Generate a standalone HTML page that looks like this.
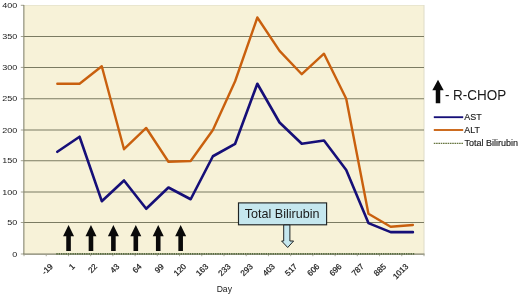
<!DOCTYPE html>
<html><head><meta charset="utf-8"><title>Chart</title>
<style>
html,body{margin:0;padding:0;background:#fff;}
body{width:520px;height:296px;overflow:hidden;font-family:"Liberation Sans",sans-serif;}
svg{display:block;will-change:transform;}
text{font-family:"Liberation Sans",sans-serif;fill:#1a1a1a;}
</style></head><body>
<svg width="520" height="296" viewBox="0 0 520 296">
<rect x="0" y="0" width="520" height="296" fill="#ffffff"/>
<rect x="24.0" y="5" width="400.0" height="249" fill="#f7f2d8"/>
<path d="M24 5.5H424" stroke="#e9e6cf" stroke-width="1" fill="none"/>
<path d="M424 5V254" stroke="#dedcc8" stroke-width="1" fill="none"/>
<path d="M24 222.50H424" stroke="#7b7b62" stroke-width="1.05" fill="none"/>
<path d="M24 192.00H424" stroke="#7b7b62" stroke-width="1.05" fill="none"/>
<path d="M24 160.70H424" stroke="#7b7b62" stroke-width="1.05" fill="none"/>
<path d="M24 130.00H424" stroke="#7b7b62" stroke-width="1.05" fill="none"/>
<path d="M24 98.80H424" stroke="#7b7b62" stroke-width="1.05" fill="none"/>
<path d="M24 67.40H424" stroke="#7b7b62" stroke-width="1.05" fill="none"/>
<path d="M24 36.50H424" stroke="#7b7b62" stroke-width="1.05" fill="none"/>
<path d="M20.8 254.00H24" stroke="#a3a392" stroke-width="1" fill="none"/>
<text x="12.30" y="257.00" font-size="7.8" textLength="5.00" lengthAdjust="spacingAndGlyphs">0</text>
<path d="M20.8 222.50H24" stroke="#a3a392" stroke-width="1" fill="none"/>
<text x="7.30" y="225.00" font-size="7.8" textLength="10.00" lengthAdjust="spacingAndGlyphs">50</text>
<path d="M20.8 192.00H24" stroke="#a3a392" stroke-width="1" fill="none"/>
<text x="2.30" y="194.50" font-size="7.8" textLength="15.00" lengthAdjust="spacingAndGlyphs">100</text>
<path d="M20.8 160.70H24" stroke="#a3a392" stroke-width="1" fill="none"/>
<text x="2.30" y="163.20" font-size="7.8" textLength="15.00" lengthAdjust="spacingAndGlyphs">150</text>
<path d="M20.8 130.00H24" stroke="#a3a392" stroke-width="1" fill="none"/>
<text x="2.30" y="132.50" font-size="7.8" textLength="15.00" lengthAdjust="spacingAndGlyphs">200</text>
<path d="M20.8 98.80H24" stroke="#a3a392" stroke-width="1" fill="none"/>
<text x="2.30" y="101.30" font-size="7.8" textLength="15.00" lengthAdjust="spacingAndGlyphs">250</text>
<path d="M20.8 67.40H24" stroke="#a3a392" stroke-width="1" fill="none"/>
<text x="2.30" y="69.90" font-size="7.8" textLength="15.00" lengthAdjust="spacingAndGlyphs">300</text>
<path d="M20.8 36.50H24" stroke="#a3a392" stroke-width="1" fill="none"/>
<text x="2.30" y="39.00" font-size="7.8" textLength="15.00" lengthAdjust="spacingAndGlyphs">350</text>
<path d="M20.8 5.30H24" stroke="#a3a392" stroke-width="1" fill="none"/>
<text x="2.30" y="7.80" font-size="7.8" textLength="15.00" lengthAdjust="spacingAndGlyphs">400</text>
<path d="M23.85 5V254" stroke="#86866f" stroke-width="1.1" fill="none"/>
<path d="M23.3 254.05H424.5" stroke="#7f7f68" stroke-width="1.15" fill="none"/>
<path d="M24.00 254V256.2" stroke="#a0a190" stroke-width="0.9" fill="none"/>
<path d="M46.22 254V256.2" stroke="#a0a190" stroke-width="0.9" fill="none"/>
<path d="M68.44 254V256.2" stroke="#a0a190" stroke-width="0.9" fill="none"/>
<path d="M90.67 254V256.2" stroke="#a0a190" stroke-width="0.9" fill="none"/>
<path d="M112.89 254V256.2" stroke="#a0a190" stroke-width="0.9" fill="none"/>
<path d="M135.11 254V256.2" stroke="#a0a190" stroke-width="0.9" fill="none"/>
<path d="M157.33 254V256.2" stroke="#a0a190" stroke-width="0.9" fill="none"/>
<path d="M179.56 254V256.2" stroke="#a0a190" stroke-width="0.9" fill="none"/>
<path d="M201.78 254V256.2" stroke="#a0a190" stroke-width="0.9" fill="none"/>
<path d="M224.00 254V256.2" stroke="#a0a190" stroke-width="0.9" fill="none"/>
<path d="M246.22 254V256.2" stroke="#a0a190" stroke-width="0.9" fill="none"/>
<path d="M268.44 254V256.2" stroke="#a0a190" stroke-width="0.9" fill="none"/>
<path d="M290.67 254V256.2" stroke="#a0a190" stroke-width="0.9" fill="none"/>
<path d="M312.89 254V256.2" stroke="#a0a190" stroke-width="0.9" fill="none"/>
<path d="M335.11 254V256.2" stroke="#a0a190" stroke-width="0.9" fill="none"/>
<path d="M357.33 254V256.2" stroke="#a0a190" stroke-width="0.9" fill="none"/>
<path d="M379.56 254V256.2" stroke="#a0a190" stroke-width="0.9" fill="none"/>
<path d="M401.78 254V256.2" stroke="#a0a190" stroke-width="0.9" fill="none"/>
<path d="M424.00 254V256.2" stroke="#a0a190" stroke-width="0.9" fill="none"/>
<text transform="translate(53.33,267) rotate(-45)" font-size="8.1" text-anchor="end" stroke="#1a1a1a" stroke-width="0.22">-19</text>
<text transform="translate(75.56,267) rotate(-45)" font-size="8.1" text-anchor="end" stroke="#1a1a1a" stroke-width="0.22">1</text>
<text transform="translate(97.78,267) rotate(-45)" font-size="8.1" text-anchor="end" stroke="#1a1a1a" stroke-width="0.22">22</text>
<text transform="translate(120.00,267) rotate(-45)" font-size="8.1" text-anchor="end" stroke="#1a1a1a" stroke-width="0.22">43</text>
<text transform="translate(142.22,267) rotate(-45)" font-size="8.1" text-anchor="end" stroke="#1a1a1a" stroke-width="0.22">64</text>
<text transform="translate(164.44,267) rotate(-45)" font-size="8.1" text-anchor="end" stroke="#1a1a1a" stroke-width="0.22">99</text>
<text transform="translate(186.67,267) rotate(-45)" font-size="8.1" text-anchor="end" stroke="#1a1a1a" stroke-width="0.22">120</text>
<text transform="translate(208.89,267) rotate(-45)" font-size="8.1" text-anchor="end" stroke="#1a1a1a" stroke-width="0.22">163</text>
<text transform="translate(231.11,267) rotate(-45)" font-size="8.1" text-anchor="end" stroke="#1a1a1a" stroke-width="0.22">233</text>
<text transform="translate(253.33,267) rotate(-45)" font-size="8.1" text-anchor="end" stroke="#1a1a1a" stroke-width="0.22">293</text>
<text transform="translate(275.56,267) rotate(-45)" font-size="8.1" text-anchor="end" stroke="#1a1a1a" stroke-width="0.22">403</text>
<text transform="translate(297.78,267) rotate(-45)" font-size="8.1" text-anchor="end" stroke="#1a1a1a" stroke-width="0.22">517</text>
<text transform="translate(320.00,267) rotate(-45)" font-size="8.1" text-anchor="end" stroke="#1a1a1a" stroke-width="0.22">606</text>
<text transform="translate(342.22,267) rotate(-45)" font-size="8.1" text-anchor="end" stroke="#1a1a1a" stroke-width="0.22">696</text>
<text transform="translate(364.44,267) rotate(-45)" font-size="8.1" text-anchor="end" stroke="#1a1a1a" stroke-width="0.22">787</text>
<text transform="translate(386.67,267) rotate(-45)" font-size="8.1" text-anchor="end" stroke="#1a1a1a" stroke-width="0.22">885</text>
<text transform="translate(408.89,267) rotate(-45)" font-size="8.1" text-anchor="end" stroke="#1a1a1a" stroke-width="0.22">1013</text>
<text x="224.3" y="291.7" font-size="8.6" text-anchor="middle">Day</text>
<path d="M56.33 253.9H414.19" stroke="#33521b" stroke-width="1.25" stroke-dasharray="1.4 0.9" fill="none"/>
<polyline points="57.33,83.74 79.56,83.74 101.78,66.28 124.00,149.23 146.22,127.98 168.44,161.72 190.67,160.98 212.89,130.03 235.11,81.25 257.33,17.50 279.56,50.80 301.78,74.23 324.00,53.72 346.22,98.77 368.44,213.67 390.67,226.72 412.89,224.98" fill="none" stroke="#c9600e" stroke-width="2.4" stroke-linejoin="round" stroke-linecap="round"/>
<polyline points="57.33,151.78 79.56,136.74 101.78,201.18 124.00,180.49 146.22,208.76 168.44,187.51 190.67,199.25 212.89,156.25 235.11,143.76 257.33,83.74 279.56,122.51 301.78,143.76 324.00,140.47 346.22,169.99 368.44,223.12 390.67,232.13 412.89,232.13" fill="none" stroke="#160f78" stroke-width="2.6" stroke-linejoin="round" stroke-linecap="round"/>
<path d="M68.55 225.00L74.05 236.20H70.85V251.00H66.25V236.20H63.05Z" fill="#0a0a0a"/>
<path d="M90.97 225.00L96.47 236.20H93.27V251.00H88.67V236.20H85.47Z" fill="#0a0a0a"/>
<path d="M113.39 225.00L118.89 236.20H115.69V251.00H111.09V236.20H107.89Z" fill="#0a0a0a"/>
<path d="M135.81 225.00L141.31 236.20H138.11V251.00H133.51V236.20H130.31Z" fill="#0a0a0a"/>
<path d="M158.23 225.00L163.73 236.20H160.53V251.00H155.93V236.20H152.73Z" fill="#0a0a0a"/>
<path d="M180.65 225.00L186.15 236.20H182.95V251.00H178.35V236.20H175.15Z" fill="#0a0a0a"/>
<path d="M438.00 79.70L443.70 90.30H440.25V103.20H435.75V90.30H432.30Z" fill="#0a0a0a"/>
<text x="444.9" y="100.2" font-size="15.2" textLength="61.4" lengthAdjust="spacingAndGlyphs">- R-CHOP</text>
<path d="M433.8 117.2H463.2" stroke="#160f78" stroke-width="1.85" fill="none"/>
<path d="M433.8 130.0H463.2" stroke="#c9600e" stroke-width="1.85" fill="none"/>
<path d="M433.8 143.4H463.2" stroke="#66753f" stroke-width="1.2" stroke-dasharray="1.6 0.7" fill="none"/>
<text x="464.3" y="119.8" font-size="8.4" textLength="17.4" lengthAdjust="spacingAndGlyphs" stroke="#1a1a1a" stroke-width="0.15">AST</text>
<text x="464.3" y="132.6" font-size="8.4" textLength="15.6" lengthAdjust="spacingAndGlyphs" stroke="#1a1a1a" stroke-width="0.15">ALT</text>
<text x="464.6" y="146.0" font-size="8.4" textLength="53.4" lengthAdjust="spacingAndGlyphs" stroke="#1a1a1a" stroke-width="0.15">Total Bilirubin</text>
<rect x="238.5" y="202.9" width="88.1" height="21.9" fill="#c5e7ee" stroke="#202424" stroke-width="1.15"/>
<text x="244.7" y="218.0" font-size="13.1" textLength="74.8" lengthAdjust="spacingAndGlyphs">Total Bilirubin</text>
<path d="M283.7 225.0V241.0H281.6L287.7 247.5L293.6 241.0H289.9V225.0Z" fill="#c5e7ee" stroke="#202424" stroke-width="1" stroke-linejoin="miter"/>
</svg>
</body></html>
